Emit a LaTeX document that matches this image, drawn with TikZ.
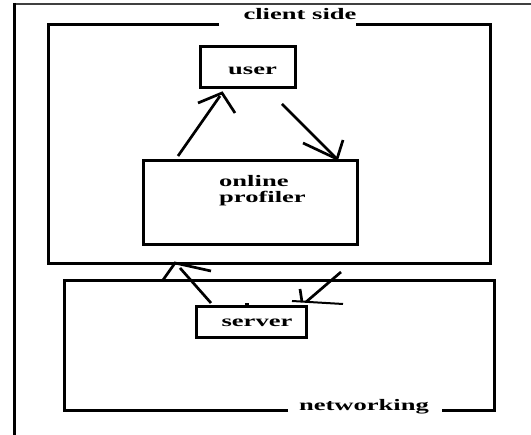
\documentclass[tikz,border=0pt]{standalone}
\usepackage{fontspec}
\usepackage{graphicx}
\setmainfont{Liberation Serif}
\newcommand{\wtxt}[1]{\scalebox{1.66}[1]{\bfseries #1}}
\begin{document}
\begin{tikzpicture}[x=1pt,y=-1pt,
  boxline/.style={line width=3pt},
  arr/.style={line width=2.7pt},
  lbl/.style={font=\fontsize{16}{14}\selectfont, inner sep=0pt, anchor=base}]
\useasboundingbox (0,0) rectangle (531,435);
% outer frame
\draw[line width=2pt, black!75] (14,4) -- (531,4);
\draw[line width=3pt] (14,3) -- (14,435);
% client side box with gap
\draw[boxline] (219,25) -- (48,25) -- (48,264) -- (490,264) -- (490,25) -- (356,25);
\node[lbl] (client) at (300,20) {\wtxt{client side}};
% networking box with gap
\draw[boxline] (288,411) -- (64,411) -- (64,281) -- (494,281) -- (494,411) -- (442,411);
\node[lbl] (net) at (364,411) {\wtxt{networking}};
% user
\draw[boxline] (200,47) rectangle (295,88);
\node[lbl] (user) at (252.5,75) {\wtxt{user}};
% profiler
\draw[boxline] (143,161) rectangle (357,245);
\node[lbl, anchor=base west, text depth=0pt] (prof1) at (219,187) {\wtxt{online}};
\node[lbl, anchor=base west, text height=10pt] (prof2) at (219,203) {\wtxt{profiler}};
% server
\draw[boxline] (196,307) rectangle (306,338);
\node[lbl] (server) at (257,327) {\wtxt{server}};
% arrow profiler -> user
\coordinate (a1s) at (178,156);
\coordinate (a1t) at (222,93);
\draw[arr] (a1s) -- (220,96);
\draw[arr] (198,103) -- (a1t) -- (235,113);
% arrow user -> profiler
\coordinate (a2s) at (282,104);
\coordinate (a2t) at (337,159);
\draw[arr] (a2s) -- (a2t);
\draw[arr] (303,143) -- (a2t) -- (343,140);
% arrow server -> client
\coordinate (a3s) at (211,303);
\coordinate (a3t) at (175,263);
\draw[arr] (a3s) -- (180,268);
\draw[arr] (163,280) -- (a3t) -- (211,271);
% arrow client -> server
\coordinate (a4s) at (341,272);
\coordinate (a4t) at (306,302);
\draw[arr] (a4s) -- (a4t);
\draw[arr] (300,289) -- (302,302);
\draw[line width=2pt] (292,301) -- (343,304);
% small tick
\draw[line width=1.5pt] (245,304) -- (249,304);
\end{tikzpicture}
\end{document}
